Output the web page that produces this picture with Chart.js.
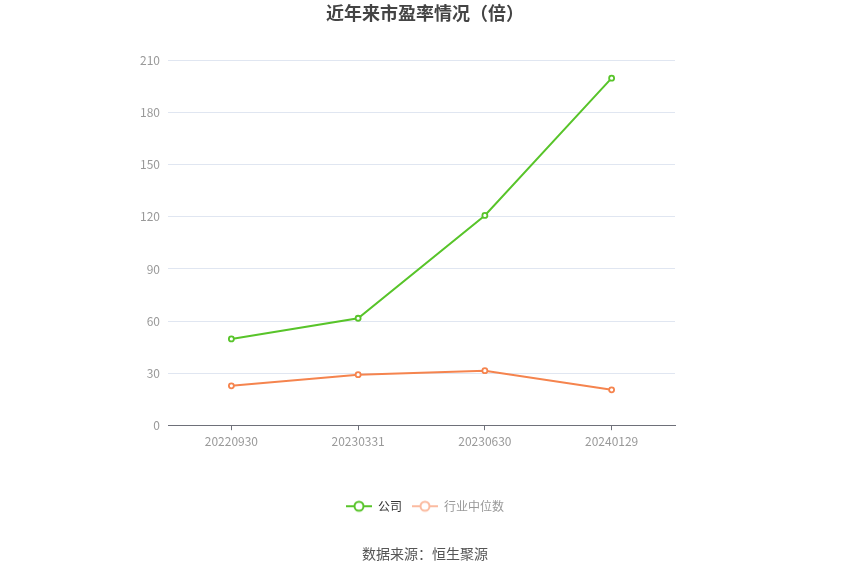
<!DOCTYPE html>
<html><head><meta charset="utf-8">
<script src="https://cdn.jsdelivr.net/npm/chart.js@4.4.1/dist/chart.umd.min.js"></script>
<style>html,body{margin:0;padding:0;background:#fff}#wrap{width:850px;height:575px}</style>
</head><body><div id="wrap"><canvas id="c"></canvas></div>
<script>
const categories = ['20220930','20230331','20230630','20240129'];
const companyValues = [49.7, 61.6, 120.8, 199.9];
const industryValues = [22.7, 29.1, 31.4, 20.4];
const seriesNames = ['公司','行业中位数'];
const yTicks = [0,30,60,90,120,150,180,210];
const titleText = '近年来市盈率情况（倍）';
const sourceText = '数据来源：恒生聚源';

const FONT = '"Noto Sans CJK SC", "Noto Sans", sans-serif';
const GREEN = '#58c42a', ORANGE = '#f5844e';

function legendIcon(color){
  const c=document.createElement('canvas'); c.width=26; c.height=14;
  const x=c.getContext('2d');
  x.strokeStyle=color; x.lineWidth=2;
  x.beginPath(); x.moveTo(0,7); x.lineTo(26,7); x.stroke();
  x.fillStyle='#fff'; x.beginPath(); x.arc(13,7,4.5,0,Math.PI*2); x.fill(); x.stroke();
  return c;
}
const icons=[legendIcon(GREEN), legendIcon('#fbbba0')];

new Chart(document.getElementById('c'),{
  type:'line',
  data:{labels:categories,datasets:[
    {label:seriesNames[0],data:companyValues,borderColor:GREEN,backgroundColor:'#fff',borderWidth:2,pointRadius:2.5,pointBorderWidth:1.8,pointBackgroundColor:'#fff',pointBorderColor:GREEN,tension:0},
    {label:seriesNames[1],data:industryValues,borderColor:ORANGE,backgroundColor:'#fff',borderWidth:2,pointRadius:2.5,pointBorderWidth:1.8,pointBackgroundColor:'#fff',pointBorderColor:ORANGE,tension:0}
  ]},
  options:{
    responsive:true,maintainAspectRatio:false,animation:false,
    layout:{padding:0},
    scales:{
      x:{offset:true,
        grid:{offset:false,drawOnChartArea:false,drawTicks:true,tickLength:5,color:'#6e7079'},
        border:{color:'#6e7079',width:1},
        ticks:{color:'#999',font:{family:FONT,size:12},padding:4,maxRotation:0},
        afterFit:s=>{s.height=65;}
      },
      y:{min:0,max:210,
        afterBuildTicks:s=>{s.ticks=yTicks.map(v=>({value:v}));},
        grid:{color:'#e0e6f1',drawTicks:false},
        border:{display:false},
        ticks:{color:'#999',font:{family:FONT,size:12},padding:8},
        afterFit:s=>{s.width=168;}
      },
      yRight:{position:'right',display:true,min:0,max:210,
        grid:{display:false,drawTicks:false},border:{display:false},ticks:{display:false},
        afterFit:s=>{s.width=175;}
      }
    },
    plugins:{
      title:{display:true,text:titleText,color:'#444',font:{family:FONT,size:18,weight:'bold'},padding:{top:2,bottom:37}},
      subtitle:{display:true,position:'bottom',text:sourceText,color:'#555',font:{family:FONT,size:14,weight:'normal'},padding:{top:23,bottom:13}},
      legend:{position:'bottom',
        labels:{usePointStyle:true,pointStyleWidth:26,boxHeight:12,padding:10,font:{family:FONT,size:12},
          generateLabels:ch=>ch.data.datasets.map((d,i)=>({text:d.label,pointStyle:icons[i],fillStyle:'#fff',strokeStyle:'#fff',lineWidth:0,fontColor:i===0?'#333':'#999',datasetIndex:i,hidden:false}))
        }},
      tooltip:{enabled:false}
    }
  }
});
</script></body></html>
